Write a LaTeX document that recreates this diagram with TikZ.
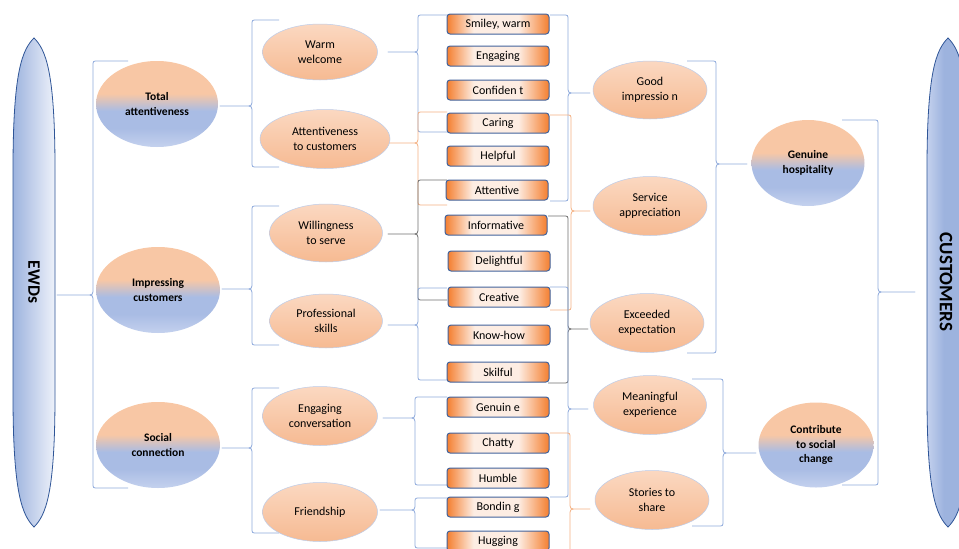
\documentclass[tikz,border=0pt]{standalone}
\usepackage{fontspec}
\setmainfont{Carlito}
\usetikzlibrary{shapes.geometric}
\definecolor{brblue}{HTML}{8FAADC}
\definecolor{brorange}{HTML}{F4B183}
\definecolor{brgray}{HTML}{707070}
\definecolor{peach}{HTML}{F8C7A5}
\definecolor{peachlt}{HTML}{FBD8C1}
\definecolor{peachdk}{HTML}{F6BA92}
\definecolor{blueA}{HTML}{A9BCE4}
\definecolor{blueB}{HTML}{C4D1EE}
\definecolor{boxor}{HTML}{F47F30}
\definecolor{boxlt}{HTML}{FDEDE3}
\definecolor{boxline}{HTML}{42639C}
\definecolor{lensline}{HTML}{2F5597}
\definecolor{lensdk}{HTML}{9DB3DE}
\definecolor{lenslt}{HTML}{EEF2FA}
\pgfdeclareverticalshading{lvlone}{100bp}{color(0bp)=(blueB); color(25bp)=(blueB); color(36bp)=(blueA); color(46bp)=(blueA); color(56bp)=(peach); color(75bp)=(peach); color(100bp)=(peach)}
\pgfdeclareverticalshading{lvltwo}{100bp}{color(0bp)=(peachdk); color(25bp)=(peachdk); color(75bp)=(peachlt); color(100bp)=(peachlt)}
\pgfdeclarehorizontalshading{boxsh}{100bp}{color(0bp)=(boxor); color(25bp)=(boxor); color(38bp)=(boxlt); color(60bp)=(boxlt); color(75bp)=(boxor); color(100bp)=(boxor)}
\pgfdeclarehorizontalshading{lensL}{100bp}{color(0bp)=(lensdk); color(25bp)=(lensdk); color(75bp)=(lenslt); color(100bp)=(lenslt)}
\pgfdeclarehorizontalshading{lensR}{100bp}{color(0bp)=(blueB); color(25bp)=(blueB); color(45bp)=(lensdk); color(100bp)=(lensdk)}
\newcommand\curlyb[7]{%
  \pgfmathsetmacro\cbs{(#6>#5)?1:-1}%
  \draw[#1] (#2,#3) -- ({#5-5*\cbs},#3) .. controls (#5,#3) .. (#5,{#3+5})
    -- (#5,{#7-7}) .. controls (#5,#7) .. ({#5+7*\cbs},#7) -- (#6,#7)
    -- ({#5+7*\cbs},#7) .. controls (#5,#7) .. (#5,{#7+7})
    -- (#5,{#4-5}) .. controls (#5,#4) .. ({#5-5*\cbs},#4) -- (#2,#4);%
}
\begin{document}
\begin{tikzpicture}[x=1pt,y=-1pt,
  brace/.style={line width=0.8pt, line join=round},
  lone/.style={ellipse, shading=lvlone, inner sep=0pt, align=center,
    font=\bfseries\fontsize{11.5}{14.5}\selectfont},
  ltwo/.style={ellipse, shading=lvltwo, draw=brblue!60, line width=0.5pt,
    inner sep=0pt, align=center, font=\fontsize{12}{14.5}\selectfont},
  sbox/.style={rounded corners=3pt, shading=boxsh, draw=boxline, line width=1pt,
    minimum width=102pt, minimum height=20pt, inner sep=0pt,
    font=\fontsize{12}{14}\selectfont},
  lenslabel/.style={rotate=-90, font=\bfseries\fontsize{17.5}{17.5}\selectfont}]
\useasboundingbox (0,0) rectangle (959,549);
\fill[white] (0,0) rectangle (959,549);
\clip (0,0) rectangle (959,549);
% side lenses
\path[shading=lensL, draw=lensline, line width=0.8pt] (34,38) .. controls (22,50) and (13,72) .. (13,170) -- (13,395) .. controls (13,493) and (22,515) .. (34,527) .. controls (46,515) and (55,493) .. (55,395) -- (55,170) .. controls (55,72) and (46,50) .. (34,38) -- cycle;
\node[lenslabel] (ewd) at (34,282) {EWDs};
\path[shading=lensR, draw=lensline, line width=0.8pt] (948,38) .. controls (936,50) and (927,72) .. (927,170) -- (927,395) .. controls (927,493) and (936,515) .. (948,527) .. controls (960,515) and (969,493) .. (969,395) -- (969,170) .. controls (969,72) and (960,50) .. (948,38) -- cycle;
\node[lenslabel, font=\bfseries\fontsize{19}{19}\selectfont] (cust) at (946,282) {CUSTOMERS};
% braces
\curlyb{brace,brblue}{128}{61}{488}{93}{57}{295}
\curlyb{brace,brblue}{279}{20}{167}{252}{220}{106}
\curlyb{brace,brblue}{279}{206}{345}{252}{222}{289}
\curlyb{brace,brblue}{279}{388}{533}{252}{222}{448}
\curlyb{brace,brblue}{447}{15}{132}{418}{388}{52}
\curlyb{brace,brorange}{447}{112}{205}{418}{388}{143}
\curlyb{brace,brgray}{447}{180}{300}{418}{388}{234}
\curlyb{brace,brblue}{447}{288}{380}{418}{388}{325}
\curlyb{brace,brblue}{447}{397}{485}{415}{383}{418}
\curlyb{brace,brblue}{447}{498}{548}{415}{380}{510}
\curlyb{brace,brblue}{550}{15}{201}{568}{590}{93}
\curlyb{brace,brorange}{550}{115}{310}{571}{590}{211}
\curlyb{brace,brgray}{548}{216}{383}{568}{588}{329}
\curlyb{brace,brblue}{550}{287}{497}{568}{588}{409}
\curlyb{brace,brorange}{550}{433}{580}{570}{590}{509}
\curlyb{brace,brblue}{687}{61}{353}{716}{747}{164}
\curlyb{brace,brblue}{692}{379}{526}{723}{756}{453}
\curlyb{brace,brblue}{842}{120}{485}{878}{915}{292}
% level 1
\node[lone, minimum width=122pt, minimum height=86pt] (ta) at (157,104) {Total\\attentiveness};
\node[lone, minimum width=124pt, minimum height=86pt] (ic) at (158,290) {Impressing\\customers};
\node[lone, minimum width=124pt, minimum height=86pt] (sc) at (158,445) {Social\\connection};
% level 2
\node[ltwo, minimum width=115pt, minimum height=56pt] (ww) at (320,52) {Warm\\welcome};
\node[ltwo, minimum width=130pt, minimum height=59pt] (atc) at (325,139) {Attentiveness\\to customers};
\node[ltwo, minimum width=113pt, minimum height=58pt] (ws) at (326,233) {Willingness\\to serve};
\node[ltwo, minimum width=113pt, minimum height=54pt] (ps) at (326,321) {Professional\\skills};
\node[ltwo, minimum width=115pt, minimum height=59pt] (ec) at (320,416) {Engaging\\conversation};
\node[ltwo, minimum width=115pt, minimum height=59pt] (fr) at (320,512) {Friendship};
% boxes
\node[sbox] (b1) at (498,24) {Smiley, warm};
\node[sbox] (b2) at (498,56) {Engaging};
\node[sbox] (b3) at (498,90) {Confiden t};
\node[sbox] (b4) at (498,123) {Caring};
\node[sbox] (b5) at (498,156) {Helpful};
\node[sbox] (b6) at (497,190) {Attentive};
\node[sbox] (b7) at (496,225) {Informative};
\node[sbox] (b8) at (499,261) {Delightful};
\node[sbox] (b9) at (499,297) {Creative};
\node[sbox] (b10) at (499,335) {Know-how};
\node[sbox] (b11) at (498,372) {Skilful};
\node[sbox] (b12) at (498,407) {Genuin e};
\node[sbox] (b13) at (498,443) {Chatty};
\node[sbox] (b14) at (498,478) {Humble};
\node[sbox] (b15) at (498,507) {Bondin g};
\node[sbox] (b16) at (498,541) {Hugging};
% level 3
\node[ltwo, minimum width=114pt, minimum height=58pt] (gi) at (650,90) {Good\\impressio n};
\node[ltwo, minimum width=114pt, minimum height=59pt] (sa) at (650,206) {Service\\appreciation};
\node[ltwo, minimum width=114pt, minimum height=59pt] (ee) at (647,323) {Exceeded\\expectation};
\node[ltwo, minimum width=113pt, minimum height=59pt] (me) at (650,405) {Meaningful\\experience};
\node[ltwo, minimum width=114pt, minimum height=59pt] (st) at (652,500) {Stories to\\share};
% level 4
\node[lone, minimum width=113pt, minimum height=86pt] (gh) at (808,163) {Genuine\\hospitality};
\node[lone, minimum width=115pt, minimum height=85pt] (cs) at (816,445) {Contribute\\to social\\change};
\end{tikzpicture}
\end{document}
